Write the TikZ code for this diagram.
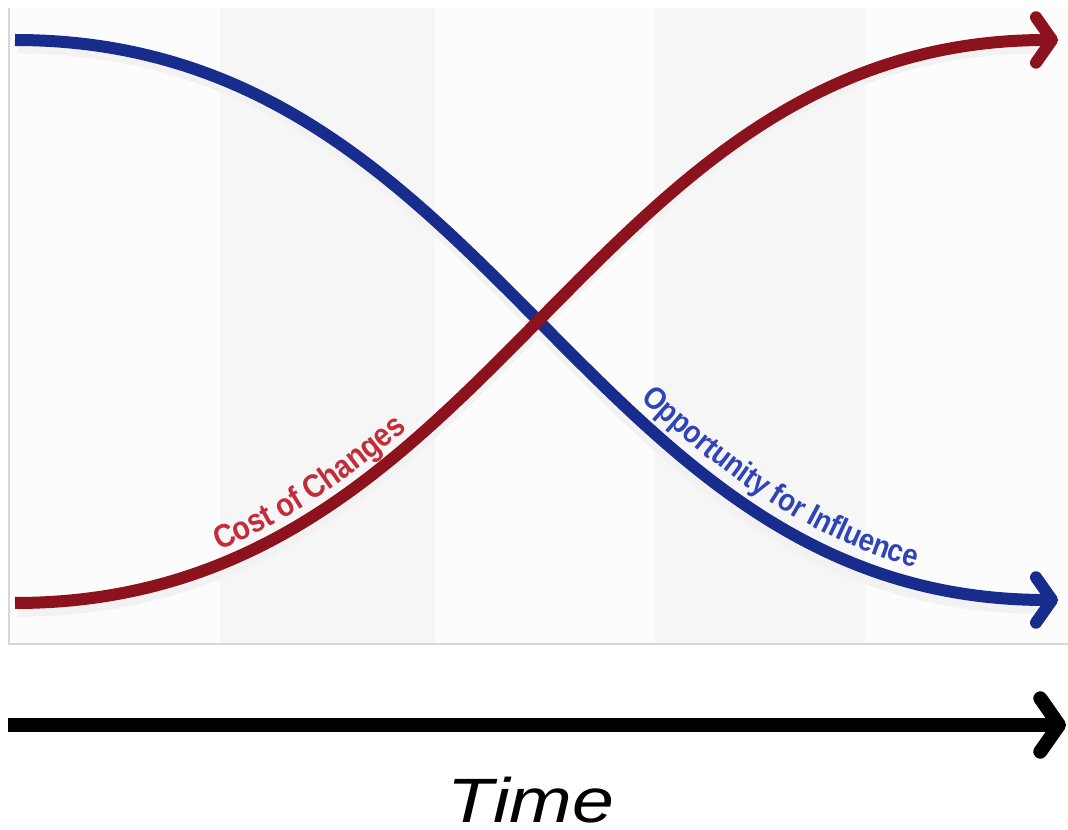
\documentclass[tikz,border=0pt]{standalone}
\usepackage{fontspec}
\usepackage{xcolor}
\usepackage{tikz}
\usetikzlibrary{arrows.meta,decorations.text}
\setmainfont{Liberation Sans}
\newfontfamily\labelfont[FakeStretch=0.88]{Liberation Sans}
\newfontfamily\timefont[FakeStretch=1.2]{Liberation Sans}
\definecolor{costred}{RGB}{140,18,30}
\definecolor{costtext}{RGB}{196,44,58}
\definecolor{infblue}{RGB}{24,44,142}
\definecolor{inftext}{RGB}{48,68,186}
\definecolor{panel}{RGB}{252,252,252}
\definecolor{stripe}{RGB}{246,246,246}
\definecolor{panelline}{RGB}{215,215,215}

\begin{document}
\begin{tikzpicture}[
  x=0.75pt, y=-0.75pt,
  curve/.style={line width=9pt, -{Straight Barb[length=12pt, width=34pt, round]}},
  shade/.style={line width=10pt, draw=black!5},
  axis/.style={line width=10.5pt, -{Straight Barb[length=14pt, width=40pt, round]}},
  curvelabel/.style={decorate, decoration={text along path, raise=10pt}},
]
\useasboundingbox (0,0) rectangle (1068,830);
% panel with faint columns
\fill[panel] (9,8) rectangle (1068,644);
\foreach \xa/\xb in {220/435, 655/865}
  \fill[stripe] (\xa,8) rectangle (\xb,644);
\draw[panelline, line width=1pt] (9,8) -- (9,644) -- (1068,644);
% end points of the curves
\coordinate (infstart) at (15,40);
\coordinate (infend) at (1058,600);
\coordinate (coststart) at (15,603);
\coordinate (costend) at (1058,40);
% soft shadows
\draw[shade] ([shift={(3,7)}]infstart) .. controls (500,47) and (580,607) .. ([shift={(-20,7)}]infend);
\draw[shade] ([shift={(3,7)}]coststart) .. controls (500,610) and (580,47) .. ([shift={(-20,7)}]costend);
% opportunity for influence
\draw[curve, infblue] (infstart) .. controls (500,40) and (580,600) .. (infend);
\path[curvelabel, decoration={text align={left indent=556pt},
  text={|\labelfont\fontsize{23.5}{24}\bfseries\color{inftext}|Opportunity for Influence}}]
  (infstart) .. controls (500,40) and (580,600) .. (infend);
% cost of changes
\draw[curve, costred] (coststart) .. controls (500,603) and (580,40) .. (costend);
\path[curvelabel, decoration={text align={left indent=161pt},
  text={|\labelfont\fontsize{24.5}{25}\bfseries\color{costtext}|Cost of Changes}}]
  (coststart) .. controls (500,603) and (580,40) .. (costend);
% time axis
\coordinate (timestart) at (8,725);
\coordinate (timeend) at (1066,725);
\draw[axis] (timestart) -- (timeend);
\node[font=\timefont\fontsize{47}{50}\selectfont\itshape, anchor=base, inner sep=0pt] (timelabel) at (531,822) {Time};
\end{tikzpicture}
\end{document}
